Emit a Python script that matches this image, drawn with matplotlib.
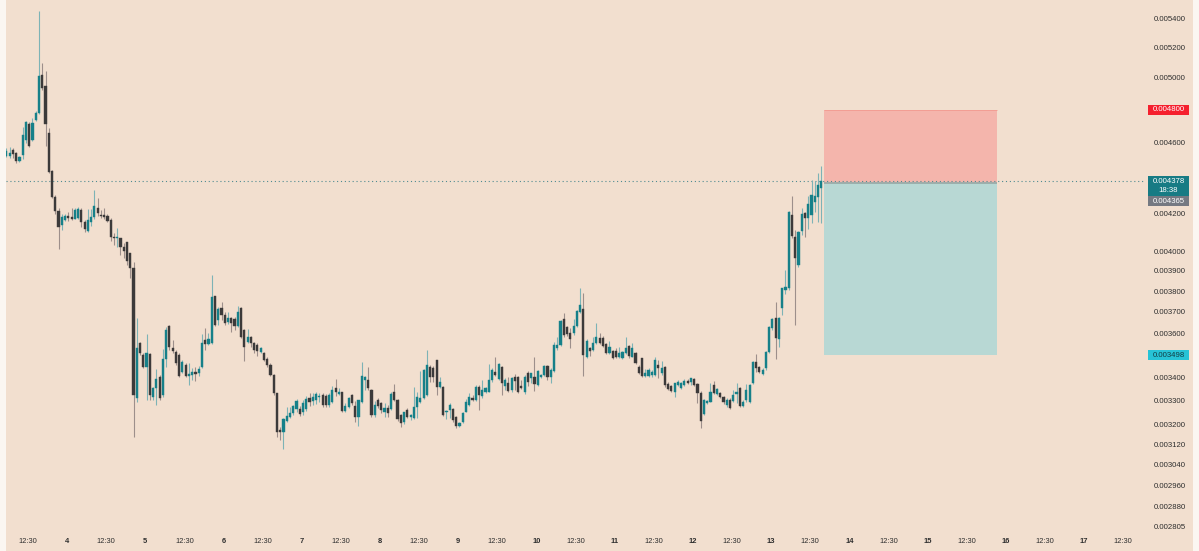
import numpy as np
import matplotlib.pyplot as plt
from matplotlib.patches import Rectangle
from matplotlib.ticker import NullLocator

# hourly candles, prices in millionths
opens = [
    4521, 4521, 4557, 4539, 4492, 4527, 4616, 4711, 4616, 4736,
    4778, 5018, 4948, 4657, 4435, 4289, 4213, 4137, 4164, 4186,
    4180, 4169, 4175, 4218, 4153, 4106, 4153, 4180, 4229, 4191,
    4191, 4186, 4164, 4074, 4069, 4069, 4022, 4048, 3991, 3915,
    3312, 3554, 3500, 3446, 3505, 3316, 3355, 3402, 3325, 3482,
    3633, 3532, 3514, 3500, 3424, 3455, 3407, 3411, 3424, 3420,
    3446, 3568, 3550, 3554, 3776, 3661, 3718, 3685, 3652, 3671,
    3666, 3633, 3718, 3615, 3559, 3582, 3554, 3545, 3514, 3509,
    3482, 3455, 3411, 3333, 3178, 3170, 3215, 3232, 3249, 3265,
    3265, 3253, 3265, 3312, 3299, 3303, 3316, 3325, 3320, 3282,
    3295, 3355, 3329, 3338, 3257, 3274, 3325, 3278, 3232, 3295,
    3389, 3389, 3346, 3240, 3303, 3290, 3253, 3270, 3265, 3338,
    3303, 3240, 3211, 3261, 3232, 3227, 3274, 3295, 3312, 3325,
    3446, 3442, 3478, 3359, 3359, 3253, 3261, 3265, 3232, 3195,
    3211, 3253, 3282, 3312, 3303, 3359, 3320, 3338, 3338, 3389,
    3424, 3393, 3446, 3363, 3376, 3346, 3402, 3402, 3363, 3338,
    3420, 3398, 3402, 3368, 3402, 3411, 3451, 3402, 3429, 3532,
    3545, 3666, 3629, 3601, 3601, 3633, 3699, 3714, 3491, 3532,
    3523, 3554, 3578, 3578, 3550, 3509, 3518, 3518, 3491, 3487,
    3509, 3541, 3491, 3509, 3446, 3487, 3407, 3407, 3411, 3411,
    3455, 3420, 3446, 3372, 3363, 3338, 3368, 3355, 3368, 3385,
    3380, 3393, 3372, 3333, 3244, 3290, 3295, 3368, 3329, 3333,
    3316, 3282, 3303, 3299, 3329, 3355, 3278, 3303, 3295, 3376,
    3469, 3446, 3415, 3442, 3514, 3624, 3671, 3573, 3718, 3805,
    3815, 4191, 4074, 3930, 4106, 4202, 4175, 4191, 4262, 4289,
    4339,
]
highs = [
    4569, 4575, 4569, 4545, 4521, 4693, 4730, 4724, 4748, 4791,
    5449, 5096, 5044, 4687, 4441, 4300, 4229, 4196, 4196, 4207,
    4229, 4229, 4234, 4229, 4164, 4223, 4223, 4328, 4284, 4218,
    4229, 4196, 4175, 4095, 4122, 4069, 4043, 4048, 3991, 3945,
    3671, 3559, 3509, 3596, 3509, 3359, 3437, 3411, 3527, 3629,
    3638, 3568, 3523, 3509, 3478, 3464, 3464, 3442, 3446, 3451,
    3596, 3624, 3601, 3880, 3776, 3723, 3747, 3699, 3699, 3676,
    3676, 3728, 3723, 3619, 3619, 3587, 3559, 3554, 3536, 3514,
    3491, 3464, 3415, 3333, 3191, 3227, 3274, 3274, 3282, 3307,
    3278, 3303, 3320, 3333, 3333, 3338, 3333, 3333, 3329, 3333,
    3363, 3393, 3355, 3338, 3290, 3316, 3329, 3299, 3303, 3469,
    3407, 3446, 3350, 3299, 3312, 3295, 3290, 3282, 3338, 3372,
    3307, 3244, 3253, 3270, 3244, 3359, 3338, 3429, 3437, 3523,
    3455, 3451, 3478, 3402, 3363, 3261, 3290, 3270, 3236, 3211,
    3253, 3307, 3333, 3325, 3368, 3368, 3389, 3359, 3460, 3442,
    3491, 3464, 3451, 3398, 3402, 3402, 3415, 3407, 3389, 3411,
    3429, 3420, 3491, 3433, 3415, 3455, 3455, 3442, 3559, 3582,
    3661, 3694, 3633, 3624, 3666, 3709, 3815, 3791, 3573, 3536,
    3582, 3647, 3601, 3587, 3554, 3564, 3523, 3532, 3536, 3518,
    3582, 3545, 3554, 3514, 3455, 3487, 3437, 3442, 3433, 3491,
    3478, 3473, 3451, 3380, 3368, 3376, 3389, 3380, 3393, 3393,
    3398, 3398, 3376, 3342, 3307, 3303, 3376, 3385, 3355, 3338,
    3320, 3312, 3312, 3346, 3376, 3359, 3303, 3372, 3372, 3473,
    3505, 3451, 3442, 3518, 3633, 3671, 3747, 3676, 3815, 3905,
    4213, 4295, 4111, 4106, 4229, 4207, 4295, 4384, 4378, 4424,
    4463,
]
lows = [
    4515, 4509, 4509, 4481, 4486, 4504, 4598, 4574, 4610, 4730,
    4772, 4922, 4580, 4424, 4284, 4196, 4011, 4111, 4159, 4159,
    4164, 4169, 4169, 4127, 4101, 4101, 4132, 4169, 4186, 4175,
    4169, 4153, 4053, 4032, 4022, 3981, 3965, 3930, 3865, 3150,
    3295, 3500, 3442, 3303, 3303, 3303, 3282, 3303, 3316, 3446,
    3523, 3509, 3455, 3402, 3420, 3402, 3368, 3389, 3385, 3407,
    3442, 3523, 3545, 3550, 3633, 3638, 3661, 3638, 3643, 3605,
    3615, 3629, 3578, 3473, 3554, 3536, 3509, 3496, 3509, 3473,
    3446, 3407, 3325, 3150, 3138, 3101, 3211, 3227, 3240, 3253,
    3236, 3240, 3257, 3278, 3282, 3286, 3295, 3274, 3274, 3274,
    3290, 3320, 3325, 3253, 3253, 3270, 3282, 3211, 3195, 3290,
    3346, 3346, 3232, 3232, 3270, 3249, 3232, 3232, 3261, 3299,
    3215, 3191, 3203, 3227, 3219, 3223, 3227, 3290, 3307, 3320,
    3380, 3380, 3325, 3355, 3236, 3223, 3227, 3211, 3186, 3191,
    3207, 3253, 3278, 3299, 3299, 3261, 3312, 3333, 3338, 3380,
    3407, 3389, 3325, 3346, 3338, 3338, 3346, 3333, 3350, 3329,
    3363, 3376, 3342, 3363, 3398, 3407, 3389, 3376, 3424, 3523,
    3541, 3582, 3587, 3532, 3591, 3629, 3694, 3407, 3487, 3496,
    3518, 3550, 3550, 3536, 3505, 3505, 3482, 3487, 3487, 3482,
    3505, 3487, 3491, 3460, 3415, 3402, 3402, 3402, 3402, 3407,
    3398, 3411, 3359, 3346, 3338, 3316, 3363, 3350, 3363, 3372,
    3368, 3363, 3290, 3186, 3240, 3286, 3295, 3329, 3325, 3312,
    3286, 3274, 3265, 3295, 3290, 3274, 3274, 3295, 3290, 3372,
    3424, 3420, 3411, 3433, 3509, 3615, 3482, 3536, 3685, 3786,
    3805, 4069, 3638, 3920, 4085, 4074, 4116, 4148, 4207, 4153,
    4148,
]
closes = [
    4551, 4539, 4533, 4492, 4515, 4645, 4724, 4580, 4717, 4778,
    5012, 4935, 4711, 4429, 4289, 4213, 4127, 4180, 4186, 4175,
    4169, 4218, 4223, 4153, 4116, 4164, 4180, 4240, 4202, 4186,
    4180, 4159, 4074, 4069, 4074, 4022, 4001, 3950, 3915, 3325,
    3532, 3509, 3446, 3509, 3325, 3355, 3393, 3312, 3482, 3615,
    3536, 3518, 3464, 3407, 3469, 3407, 3415, 3424, 3415, 3437,
    3554, 3550, 3573, 3771, 3638, 3714, 3685, 3647, 3671, 3647,
    3633, 3699, 3582, 3536, 3582, 3554, 3523, 3518, 3532, 3478,
    3455, 3411, 3333, 3170, 3170, 3223, 3236, 3249, 3278, 3299,
    3244, 3290, 3307, 3295, 3316, 3329, 3320, 3282, 3282, 3325,
    3346, 3338, 3338, 3257, 3278, 3312, 3290, 3232, 3303, 3407,
    3402, 3355, 3240, 3282, 3278, 3261, 3270, 3249, 3329, 3303,
    3223, 3207, 3253, 3232, 3240, 3274, 3316, 3312, 3433, 3455,
    3402, 3402, 3359, 3380, 3240, 3257, 3282, 3219, 3195, 3207,
    3249, 3295, 3316, 3303, 3359, 3325, 3346, 3355, 3389, 3433,
    3411, 3460, 3376, 3389, 3342, 3398, 3385, 3338, 3355, 3402,
    3380, 3420, 3372, 3429, 3411, 3451, 3402, 3433, 3545, 3545,
    3656, 3591, 3596, 3573, 3633, 3704, 3733, 3500, 3564, 3518,
    3554, 3582, 3554, 3541, 3509, 3536, 3487, 3491, 3509, 3514,
    3532, 3496, 3532, 3464, 3420, 3407, 3420, 3433, 3424, 3478,
    3442, 3442, 3368, 3350, 3342, 3376, 3380, 3376, 3385, 3376,
    3398, 3368, 3333, 3215, 3303, 3299, 3338, 3333, 3350, 3316,
    3295, 3303, 3270, 3325, 3338, 3278, 3295, 3346, 3368, 3469,
    3442, 3424, 3433, 3514, 3629, 3666, 3578, 3671, 3815, 3820,
    4207, 4080, 3965, 4101, 4196, 4175, 4251, 4300, 4295, 4356,
    4378,
]

last_price = 0.004378
last_time = "18:38"
entry_price = 0.004365
stop_price = 0.004800
target_price = 0.003498
box_start, box_end = 250.8, 303.9   # in candle units

# price scale ticks; the ones hidden behind the price tags get no text
price_ticks = [0.005400, 0.005200, 0.005000, 0.004800, 0.004600, 0.004400,
               0.004200, 0.004000, 0.003900, 0.003800, 0.003700, 0.003600,
               0.003500, 0.003400, 0.003300, 0.003200, 0.003120, 0.003040,
               0.002960, 0.002880, 0.002805]
hidden_ticks = [0.004800, 0.004400, 0.003500]
time_labels = ["12:30"]
for day in range(4, 18):
    time_labels += [str(day), "12:30"]
first_tick, tick_step = 6.6, 12

BG = "#f2dfcf"
UP, DOWN = "#168089", "#3c3a3a"
UP_WICK, DOWN_WICK = "#7db3b6", "#9d8f8b"
W, H = 1199, 551

plt.rcParams["font.family"] = ["Liberation Sans", "DejaVu Sans"]

o = np.array(opens) / 1e6
h = np.array(highs) / 1e6
l = np.array(lows) / 1e6
c = np.array(closes) / 1e6
idx = np.arange(len(c))
up = c >= o

fig = plt.figure(figsize=(W / 100, H / 100), dpi=100, facecolor=BG)
ax = fig.add_axes([6 / W, 16 / H, 1139 / W, 535 / H])
ax.set_facecolor(BG)

# wicks and bodies
ax.vlines(idx[up], l[up], h[up], color=UP_WICK, lw=0.8, zorder=2)
ax.vlines(idx[~up], l[~up], h[~up], color=DOWN_WICK, lw=0.8, zorder=2)
ax.bar(idx[up], (c - o)[up], bottom=o[up], width=0.66, color=UP,
       edgecolor=UP, lw=0.3, zorder=3)
ax.bar(idx[~up], (o - c)[~up], bottom=c[~up], width=0.66, color=DOWN,
       edgecolor=DOWN, lw=0.3, zorder=3)

# short position box
ax.add_patch(Rectangle((box_start, entry_price), box_end - box_start,
                       stop_price - entry_price, color="#f4b5ac", lw=0, zorder=1))
ax.add_patch(Rectangle((box_start, target_price), box_end - box_start,
                       entry_price - target_price, color="#b8d8d4", lw=0, zorder=1))
ax.hlines(entry_price, box_start, box_end, color="#9aaba8", lw=1.3, zorder=1.5)
ax.hlines(stop_price, box_start, box_end, color="#f29a90", lw=0.6, zorder=1.5)

# last price line
ax.axhline(last_price, color="#4f8b91", lw=0.8, ls=(0, (1, 2.5)), zorder=1.2)

ax.set_yscale("log")
ax.set_ylim(2.776e-3, 5.527e-3)
ax.set_xlim(-0.12, 349.3)
ax.yaxis.tick_right()
ax.set_yticks(price_ticks)
ax.set_yticklabels(["" if p in hidden_ticks else f"{p:.6f}" for p in price_ticks])
ax.yaxis.set_minor_locator(NullLocator())
ax.tick_params(axis="y", length=0, pad=6.5, labelsize=5.6, labelcolor="#2e2e2e")

xt = [first_tick + tick_step * k for k in range(len(time_labels))]
ax.set_xticks(xt)
ax.set_xticklabels(time_labels)
ax.tick_params(axis="x", length=0, pad=2.5, labelsize=5.4, labelcolor="#2e2e2e")
for t in ax.get_xticklabels():
    if t.get_text() != "12:30":
        t.set_fontweight("bold")
for s in ax.spines.values():
    s.set_visible(False)


def tag(price, lines, face, tcolor, dy=0, height=10):
    y = ax.transData.transform((0, price))[1] - dy
    top = y + 5
    fig.add_artist(Rectangle((1148 / W, (top - height) / H), 41 / W, height / H,
                             transform=fig.transFigure, color=face, lw=0, zorder=5))
    for k, s in enumerate(lines):
        fig.text(1168.5 / W, (top - 5 - 9 * k) / H, s, color=tcolor, fontsize=5.6,
                 ha="center", va="center", zorder=6)


tag(stop_price, [f"{stop_price:.6f}"], "#f5202e", "#ffffff")
tag(last_price, [f"{last_price:.6f}", last_time], "#177b84", "#ffffff", height=21)
tag(entry_price, [f"{entry_price:.6f}"], "#757982", "#ffffff", dy=18)
tag(target_price, [f"{target_price:.6f}"], "#27c3d6", "#123c42")

# light strips at the edges
fig.add_artist(Rectangle((0, 0), 6 / W, 1, transform=fig.transFigure,
                         color="#fbf6f1", lw=0, zorder=4))
fig.add_artist(Rectangle((1193 / W, 0), 6 / W, 1, transform=fig.transFigure,
                         color="#fbf6f1", lw=0, zorder=4))

fig.savefig("out.png", dpi=100, facecolor=BG)
